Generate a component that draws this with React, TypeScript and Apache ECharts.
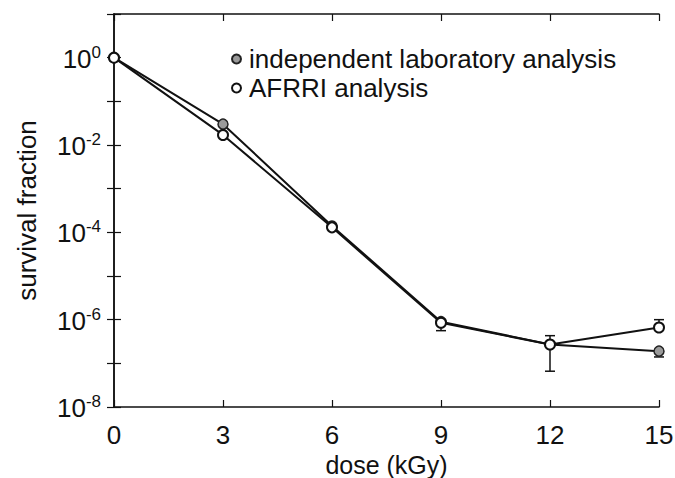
import React, { useEffect, useRef } from "react";
import * as echarts from "echarts";

const doses = [0, 3, 6, 9, 12, 15];
const independent = [1, 3.0e-2, 1.4e-4, 9.0e-7, 2.7e-7, 1.9e-7];
const afrri = [1, 1.7e-2, 1.3e-4, 8.5e-7, 2.7e-7, 6.6e-7];
// error bars: [dose, low, high]
const indepErr = [
  [9, 5.6e-7, 9.0e-7],
  [12, 6.6e-8, 4.3e-7],
  [15, 1.4e-7, 1.9e-7],
];
const afrriErr = [[15, 6.6e-7, 1.0e-6]];
const xTicks = [0, 3, 6, 9, 12, 15];

const FONT = "'Liberation Sans', Arial, Helvetica, sans-serif";

function errRender(params: any, api: any) {
  const x = api.value(0);
  const lo = api.coord([x, api.value(1)]);
  const hi = api.coord([x, api.value(2)]);
  const w = 5;
  const st = { stroke: "#111", lineWidth: 1.5 };
  return {
    type: "group",
    children: [
      { type: "line", shape: { x1: lo[0], y1: lo[1], x2: hi[0], y2: hi[1] }, style: st },
      { type: "line", shape: { x1: lo[0] - w, y1: lo[1], x2: lo[0] + w, y2: lo[1] }, style: st },
      { type: "line", shape: { x1: hi[0] - w, y1: hi[1], x2: hi[0] + w, y2: hi[1] }, style: st },
    ],
  };
}

export default function App() {
  const ref = useRef<HTMLDivElement>(null);
  useEffect(() => {
    const chart = echarts.init(ref.current!, null, { renderer: "svg" });
    const axisLine = { show: true, lineStyle: { color: "#111", width: 1.5 } };
    const tick = { show: true, inside: true, length: 7, lineStyle: { color: "#111", width: 1.2 } };
    chart.setOption({
      animation: false,
      backgroundColor: "#fff",
      grid: { left: 114, right: 16, top: 14, bottom: 71, containLabel: false, outerBoundsMode: "none" },
      legend: {
        orient: "vertical",
        left: 226,
        top: 41,
        itemGap: 3,
        itemWidth: 9,
        itemHeight: 9,
        textStyle: { fontSize: 26, color: "#111", fontFamily: FONT, padding: [0, 0, 0, 3] },
        data: [
          { name: "independent laboratory analysis", icon: "circle" },
          { name: "AFRRI analysis", icon: "circle" },
        ],
      },
      xAxis: [
        {
          type: "value",
          min: 0,
          max: 15,
          interval: 3,
          name: "dose (kGy)",
          nameLocation: "middle",
          nameGap: 42,
          nameTextStyle: { fontSize: 25, color: "#111", fontFamily: FONT },
          axisLine,
          axisTick: tick,
          splitLine: { show: false },
          axisLabel: {
            fontSize: 26,
            color: "#111",
            fontFamily: FONT,
            margin: 15,
            formatter: (v: number) => (xTicks.includes(v) ? String(v) : ""),
          },
        },
        {
          type: "value",
          position: "top",
          min: 0,
          max: 15,
          interval: 3,
          axisLine,
          axisTick: tick,
          axisLabel: { show: false },
          splitLine: { show: false },
        },
      ],
      yAxis: [
        {
          type: "log",
          logBase: 10,
          min: 1e-8,
          max: 10,
          name: "survival fraction",
          nameLocation: "middle",
          nameGap: 74,
          nameTextStyle: { fontSize: 26, color: "#111", fontFamily: FONT },
          axisLine,
          axisTick: tick,
          splitLine: { show: false },
          minorTick: { show: false },
          axisLabel: {
            margin: 13,
            formatter: (v: number) => {
              const e = Math.round(Math.log10(v));
              if (e % 2 !== 0) return "";
              return "{b|10}{s|" + e + "}";
            },
            rich: {
              b: { fontSize: 26, color: "#111", fontFamily: FONT, verticalAlign: "bottom", lineHeight: 28 },
              s: { fontSize: 17, color: "#111", fontFamily: FONT, verticalAlign: "top", lineHeight: 28 },
            },
          },
        },
        {
          type: "log",
          logBase: 10,
          min: 1e-8,
          max: 10,
          position: "right",
          axisLine,
          axisTick: tick,
          axisLabel: { show: false },
          splitLine: { show: false },
        },
      ],
      series: [
        {
          name: "independent laboratory analysis",
          type: "line",
          data: doses.map((d, i) => [d, independent[i]]),
          symbol: "circle",
          symbolSize: 10,
          lineStyle: { color: "#111", width: 2 },
          itemStyle: { color: "#9a9a9a", borderColor: "#222", borderWidth: 1.5 },
          z: 3,
        },
        {
          name: "AFRRI analysis",
          type: "line",
          data: doses.map((d, i) => [d, afrri[i]]),
          symbol: "circle",
          symbolSize: 10,
          lineStyle: { color: "#111", width: 2 },
          itemStyle: { color: "#fff", borderColor: "#111", borderWidth: 2 },
          z: 4,
        },
        {
          type: "custom",
          renderItem: errRender,
          data: indepErr,
          encode: { x: 0, y: [1, 2] },
          z: 2,
          silent: true,
        },
        {
          type: "custom",
          renderItem: errRender,
          data: afrriErr,
          encode: { x: 0, y: [1, 2] },
          z: 2,
          silent: true,
        },
      ],
    });
    return () => chart.dispose();
  }, []);
  return <div ref={ref} style={{ position: "fixed", left: 0, top: 0, width: 675, height: 478 }} />;
}
